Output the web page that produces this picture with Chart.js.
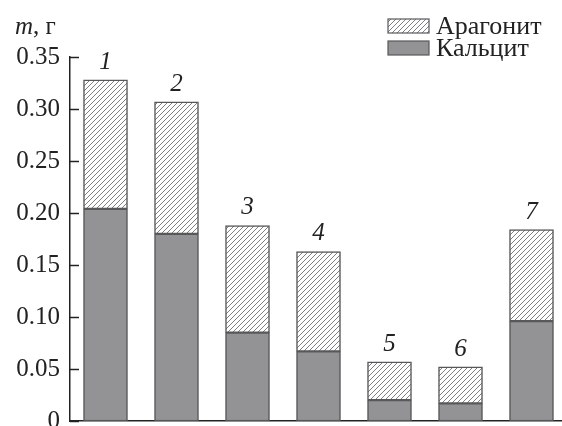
<!DOCTYPE html>
<html>
<head>
<meta charset="utf-8">
<script src="https://cdn.jsdelivr.net/npm/chart.js@4"></script>
<style>
  html, body { margin: 0; padding: 0; background: #fff; overflow: hidden; }
  #wrap { width: 567px; height: 426px; }
</style>
</head>
<body>
<div id="wrap"><canvas id="massChart" width="567" height="426"></canvas></div>
<script>
// data
const categories = ['1', '2', '3', '4', '5', '6', '7'];
const calcite = [0.204, 0.180, 0.085, 0.067, 0.020, 0.017, 0.096];
const aragonite = [0.124, 0.127, 0.103, 0.096, 0.037, 0.035, 0.088];
const yTicks = [0, 0.05, 0.10, 0.15, 0.20, 0.25, 0.30, 0.35];

const serif = "'Liberation Serif', 'Times New Roman', Times, serif";
const edge = '#58585a';
const grey = '#939396';

// diagonal hatch for the aragonite part
function makeHatch() {
    const s = 5;
    const c = document.createElement('canvas');
    c.width = s; c.height = s;
    const g = c.getContext('2d');
    g.fillStyle = '#fff';
    g.fillRect(0, 0, s, s);
    g.strokeStyle = '#808082';
    g.lineWidth = 1;
    g.beginPath();
    g.moveTo(-1, s + 1); g.lineTo(s + 1, -1);
    g.moveTo(-1, 1); g.lineTo(1, -1);
    g.moveTo(s - 1, s + 1); g.lineTo(s + 1, s - 1);
    g.stroke();
    return g.createPattern(c, 'repeat');
}
const hatch = makeHatch();

// inward ticks, y title, bar numbers, legend
const decor = {
    id: 'decor',
    afterDraw(chart) {
        const ctx = chart.ctx;
        const y = chart.scales.y;
        const area = chart.chartArea;
        ctx.save();
        ctx.strokeStyle = '#222';
        ctx.lineWidth = 1.5;
        yTicks.forEach(v => {
            const py = Math.round(y.getPixelForValue(v)) + 0.5;
            ctx.beginPath();
            ctx.moveTo(area.left, py);
            ctx.lineTo(area.left + 9, py);
            ctx.stroke();
        });

        // axis title "m, г"
        ctx.fillStyle = '#222';
        ctx.textBaseline = 'alphabetic';
        ctx.textAlign = 'left';
        ctx.font = 'italic 25px ' + serif;
        ctx.fillText('m', 15, 34);
        const mw = ctx.measureText('m').width;
        ctx.font = '25px ' + serif;
        ctx.fillText(', г', 15 + mw, 34);

        // numbers over the bars
        const meta = chart.getDatasetMeta(1);
        ctx.font = 'italic 25px ' + serif;
        ctx.textAlign = 'center';
        meta.data.forEach((bar, i) => {
            ctx.fillText(categories[i], bar.x, bar.y - 11);
        });

        // legend
        ctx.lineWidth = 1.2;
        ctx.strokeStyle = edge;
        ctx.fillStyle = hatch;
        ctx.fillRect(388, 19, 41, 14);
        ctx.strokeRect(388, 19, 41, 14);
        ctx.fillStyle = grey;
        ctx.fillRect(388, 41, 41, 14);
        ctx.strokeRect(388, 41, 41, 14);
        ctx.fillStyle = '#222';
        ctx.textAlign = 'left';
        ctx.textBaseline = 'alphabetic';
        ctx.font = '26px ' + serif;
        ctx.fillText('Арагонит', 436, 34);
        ctx.fillText('Кальцит', 436, 56);
        ctx.restore();
    }
};

const ctxMass = document.getElementById('massChart').getContext('2d');
const massChart = new Chart(ctxMass, {
    type: 'bar',
    data: {
        labels: categories,
        datasets: [{
            label: 'Кальцит',
            data: calcite,
            backgroundColor: grey,
            borderColor: edge,
            borderWidth: 1.5,
            borderSkipped: false,
            barThickness: 44
        }, {
            label: 'Арагонит',
            data: aragonite,
            backgroundColor: hatch,
            borderColor: edge,
            borderWidth: 1.5,
            borderSkipped: false,
            barThickness: 44
        }]
    },
    options: {
        responsive: false,
        animation: false,
        devicePixelRatio: 1,
        layout: { padding: { top: 57, right: 0, bottom: 0, left: 0 } },
        plugins: {
            legend: { display: false },
            tooltip: { enabled: false }
        },
        scales: {
            x: {
                stacked: true,
                grid: { display: false, drawTicks: false },
                border: { display: true, color: '#222', width: 1.5 },
                ticks: { display: false },
                afterFit(scale) { scale.height = 5; }
            },
            y: {
                stacked: true,
                min: 0,
                max: 0.35,
                grid: { display: false, drawTicks: false },
                border: { display: true, color: '#222', width: 1.5 },
                ticks: {
                    stepSize: 0.05,
                    padding: 10,
                    color: '#222',
                    font: { family: serif, size: 25 },
                    callback: v => {
                        const t = yTicks.find(k => Math.abs(k - v) < 1e-9);
                        return t === undefined ? null : (t === 0 ? '0' : t.toFixed(2));
                    }
                },
                afterFit(scale) {
                    scale.width = 70;
                    scale.paddingTop = 0;
                    scale.paddingBottom = 0;
                }
            }
        }
    },
    plugins: [decor]
});
</script>
</body>
</html>
